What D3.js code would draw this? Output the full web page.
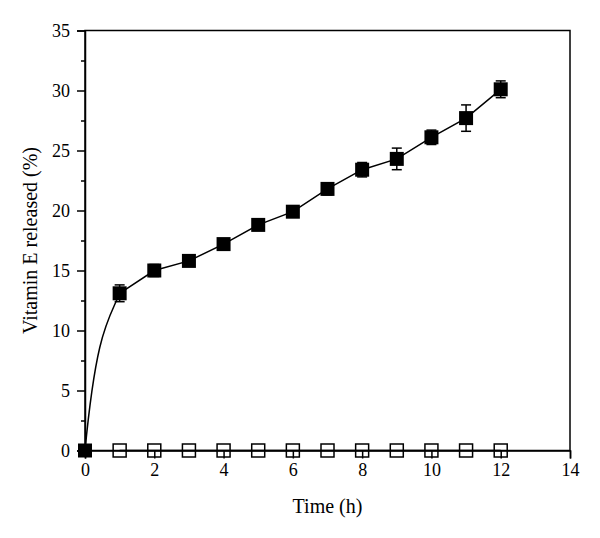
<!DOCTYPE html>
<html>
<head>
<meta charset="utf-8">
<script src="https://cdn.jsdelivr.net/npm/d3@7"></script>
<style>
  body { margin: 0; background: #fff; }
  svg text { font-family: "Liberation Serif", "Times New Roman", serif; fill: #000; }
</style>
</head>
<body>
<div id="chart"></div>
<script>
let width = 600, height = 538;

// data
const hours = [0, 1, 2, 3, 4, 5, 6, 7, 8, 9, 10, 11, 12];
const released = [0, 13.1, 15.0, 15.8, 17.2, 18.8, 19.9, 21.8, 23.4, 24.3, 26.1, 27.7, 30.1];
const releasedErr = [0, 0.7, 0.5, 0.3, 0.3, 0.3, 0.3, 0.5, 0.6, 0.9, 0.6, 1.1, 0.7];
const controlHours = [1, 2, 3, 4, 5, 6, 7, 8, 9, 10, 11, 12];
const control = [0, 0, 0, 0, 0, 0, 0, 0, 0, 0, 0, 0];
const xTicks = [0, 2, 4, 6, 8, 10, 12, 14];
const yTicks = [0, 5, 10, 15, 20, 25, 30, 35];
const yMinor = [2.5, 7.5, 12.5, 17.5, 22.5, 27.5, 32.5];

const margin = {top: 30.5, right: 30, bottom: 87.5, left: 85};
const w = width - margin.left - margin.right;
const h = height - margin.top - margin.bottom;

const svg = d3.select('#chart').append('svg')
  .attr('width', width)
  .attr('height', height);

const g = svg.append('g')
  .attr('transform', `translate(${margin.left},${margin.top})`);

const x = d3.scaleLinear().domain([0, 14]).range([0, w]);
const y = d3.scaleLinear().domain([0, 35]).range([h, 0]);

// frame
g.append('rect')
  .attr('width', w).attr('height', h)
  .attr('fill', 'none').attr('stroke', '#000').attr('stroke-width', 1.5);

// axes
g.append('g')
  .attr('transform', `translate(0,${h})`)
  .call(d3.axisBottom(x).tickValues(xTicks).tickSize(8).tickPadding(5));
g.append('g')
  .call(d3.axisLeft(y).tickValues(yTicks).tickSize(8).tickPadding(7));
g.append('g')
  .call(d3.axisLeft(y).tickValues(yMinor).tickSize(4).tickFormat(''))
  .select('.domain').remove();

g.selectAll('.domain').attr('stroke-width', 1.5);
g.selectAll('.tick line').attr('stroke-width', 1.5);
g.selectAll('.tick text')
  .attr('font-size', 18)
  .style('font-size', '18px')
  .style('font-family', '"Liberation Serif", serif');

// control series (open squares on baseline)
g.append('path')
  .datum(controlHours.map((d, i) => [d, control[i]]))
  .attr('fill', 'none').attr('stroke', '#000').attr('stroke-width', 1.5)
  .attr('d', d3.line().x(d => x(d[0])).y(d => y(d[1])));

g.selectAll('rect.open')
  .data(controlHours)
  .join('rect')
  .attr('class', 'open')
  .attr('x', (d) => x(d) - 6.5)
  .attr('y', (d, i) => y(control[i]) - 6.5)
  .attr('width', 13).attr('height', 13)
  .attr('fill', 'none').attr('stroke', '#000').attr('stroke-width', 1.5);

// release curve: smooth rise over the first hour, then straight segments
const startSlope = 30, endSlope = 7;
const rise = d3.path();
rise.moveTo(x(hours[0]), y(released[0]));
rise.bezierCurveTo(
  x(hours[0] + 1 / 3), y(released[0] + startSlope / 3),
  x(hours[1] - 1 / 3), y(released[1] - endSlope / 3),
  x(hours[1]), y(released[1]));
g.append('path')
  .attr('fill', 'none').attr('stroke', '#000').attr('stroke-width', 1.5)
  .attr('d', rise.toString());

g.append('path')
  .datum(hours.slice(1).map((d, i) => [d, released[i + 1]]))
  .attr('fill', 'none').attr('stroke', '#000').attr('stroke-width', 1.5)
  .attr('d', d3.line().x(d => x(d[0])).y(d => y(d[1])));

// error bars
const eb = g.selectAll('g.err')
  .data(hours.filter((d, i) => releasedErr[i] > 0))
  .join('g').attr('class', 'err');
eb.append('line')
  .attr('x1', d => x(d)).attr('x2', d => x(d))
  .attr('y1', d => y(released[d] + releasedErr[d]))
  .attr('y2', d => y(released[d] - releasedErr[d]))
  .attr('stroke', '#000').attr('stroke-width', 1.5);
[1, -1].forEach(s => {
  eb.append('line')
    .attr('x1', d => x(d) - 5).attr('x2', d => x(d) + 5)
    .attr('y1', d => y(released[d] + s * releasedErr[d]))
    .attr('y2', d => y(released[d] + s * releasedErr[d]))
    .attr('stroke', '#000').attr('stroke-width', 1.5);
});

// filled squares
g.selectAll('rect.filled')
  .data(hours)
  .join('rect')
  .attr('class', 'filled')
  .attr('x', (d) => x(d) - 7)
  .attr('y', (d, i) => y(released[i]) - 7)
  .attr('width', 14).attr('height', 14)
  .attr('fill', '#000');

// titles
svg.append('text')
  .attr('x', margin.left + w / 2)
  .attr('y', 513)
  .attr('text-anchor', 'middle')
  .style('font-size', '20px')
  .text('Time (h)');

svg.append('text')
  .attr('transform', `translate(37,${margin.top + h / 2}) rotate(-90)`)
  .attr('text-anchor', 'middle')
  .style('font-size', '20px')
  .text('Vitamin E released (%)');
</script>
</body>
</html>
